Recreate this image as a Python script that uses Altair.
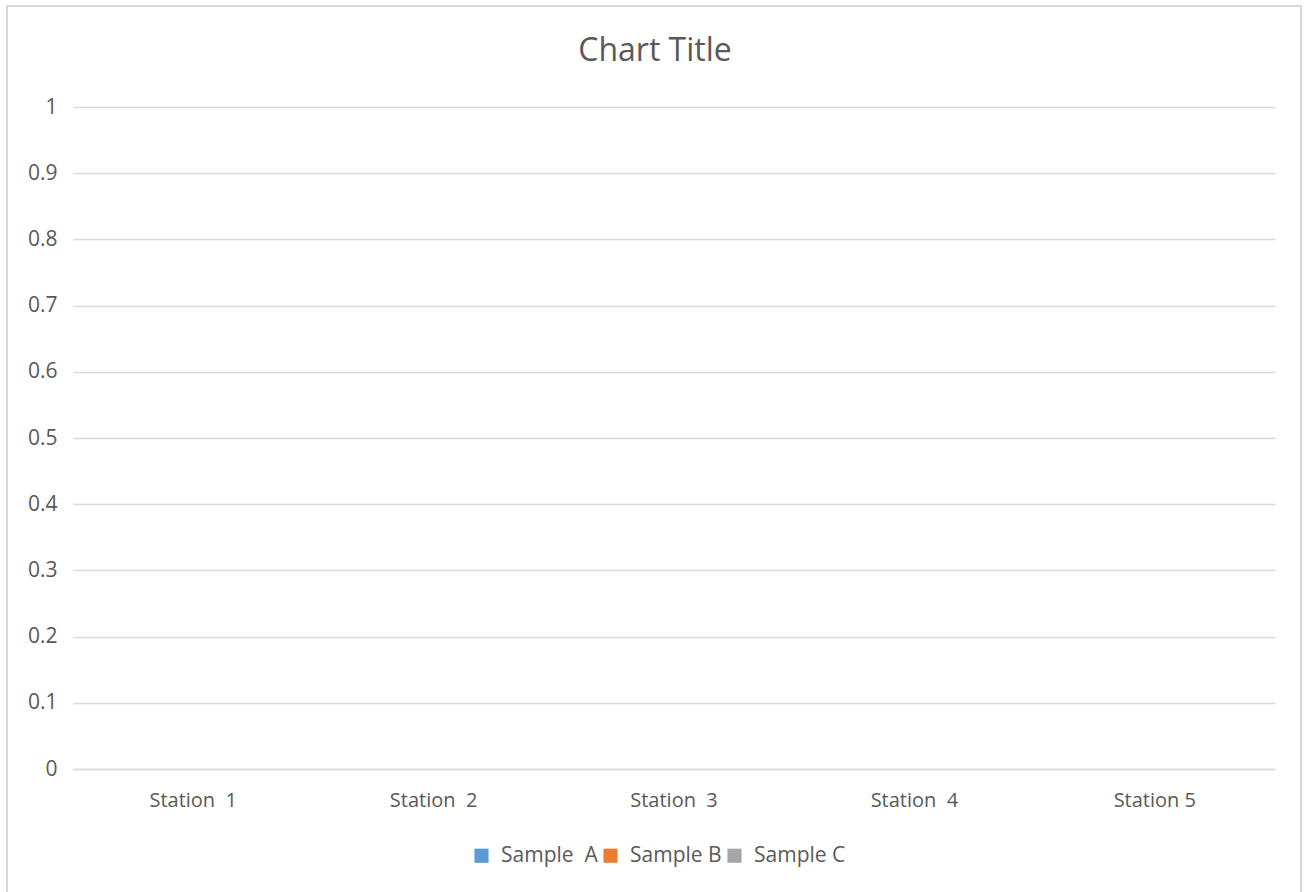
import altair as alt
import pandas as pd

# Chart content (the NBSP keeps the wider gap in some labels)
title_text = "Chart Title"
stations = ["Station\u00a0 1", "Station\u00a0 2", "Station\u00a0 3", "Station\u00a0 4", "Station 5"]
series = ["Sample\u00a0 A", "Sample B", "Sample C"]
series_colors = ["#5B9BD5", "#ED7D31", "#A5A5A5"]
# No values have been entered yet for any station
sample_a = [None, None, None, None, None]
sample_b = [None, None, None, None, None]
sample_c = [None, None, None, None, None]
y_ticks = [0, 0.1, 0.2, 0.3, 0.4, 0.5, 0.6, 0.7, 0.8, 0.9, 1]

FONT = "Open Sans"
TEXT = "#595959"
GRID = "#D9D9D9"

rows = []
for name, vals in zip(series, [sample_a, sample_b, sample_c]):
    for st, v in zip(stations, vals):
        rows.append({"station": st, "series": name, "value": v})
data = pd.DataFrame(rows)

bars = alt.Chart(data).mark_bar().encode(
    x=alt.X("station:N", sort=stations,
            scale=alt.Scale(domain=stations, paddingInner=0.4, paddingOuter=0.2),
            axis=alt.Axis(title=None, labelAngle=0, labelFont=FONT, labelFontSize=20,
                          labelColor=TEXT, labelPadding=21, ticks=False,
                          domain=True, domainColor=GRID, domainWidth=1.3, grid=False)),
    xOffset=alt.XOffset("series:N", scale=alt.Scale(domain=series)),
    y=alt.Y("value:Q",
            scale=alt.Scale(domain=[0, 1], nice=False, zero=True),
            axis=alt.Axis(title=None, values=y_ticks, labelFont=FONT, labelFontSize=21,
                          labelColor=TEXT, labelPadding=16, ticks=False, domain=False,
                          grid=True, gridColor=GRID, gridWidth=1.3,
                          labelExpr="format(datum.value, '')")),
    color=alt.Color("series:N",
                    scale=alt.Scale(domain=series, range=series_colors),
                    legend=alt.Legend(title=None, orient="none", direction="horizontal",
                                      legendX=398, legendY=738,
                                      symbolType="square", symbolSize=200,
                                      symbolStrokeWidth=0, labelFont=FONT,
                                      labelFontSize=21, labelColor=TEXT,
                                      labelOffset=9, columnPadding=2)),
)

title = alt.Chart(pd.DataFrame({"t": [title_text]})).mark_text(
    font=FONT, fontSize=32, color=TEXT, align="center", baseline="alphabetic"
).encode(text="t:N", x=alt.value(582), y=alt.value(-46))

frame = alt.Chart(pd.DataFrame({"f": [0]})).mark_rect(
    filled=False, stroke=GRID, strokeWidth=2
).encode(x=alt.value(-66), x2=alt.value(1228), y=alt.value(-101), y2=alt.value(900))

chart = alt.layer(frame, bars, title).properties(
    width=1202, height=662,
    padding={"left": 73, "top": 107, "right": 30, "bottom": 123},
    autosize=alt.AutoSizeParams(type="none"),
    background="white",
).configure_view(stroke=None)

chart.save("out.html", embed_options={"renderer": "svg", "actions": False})
